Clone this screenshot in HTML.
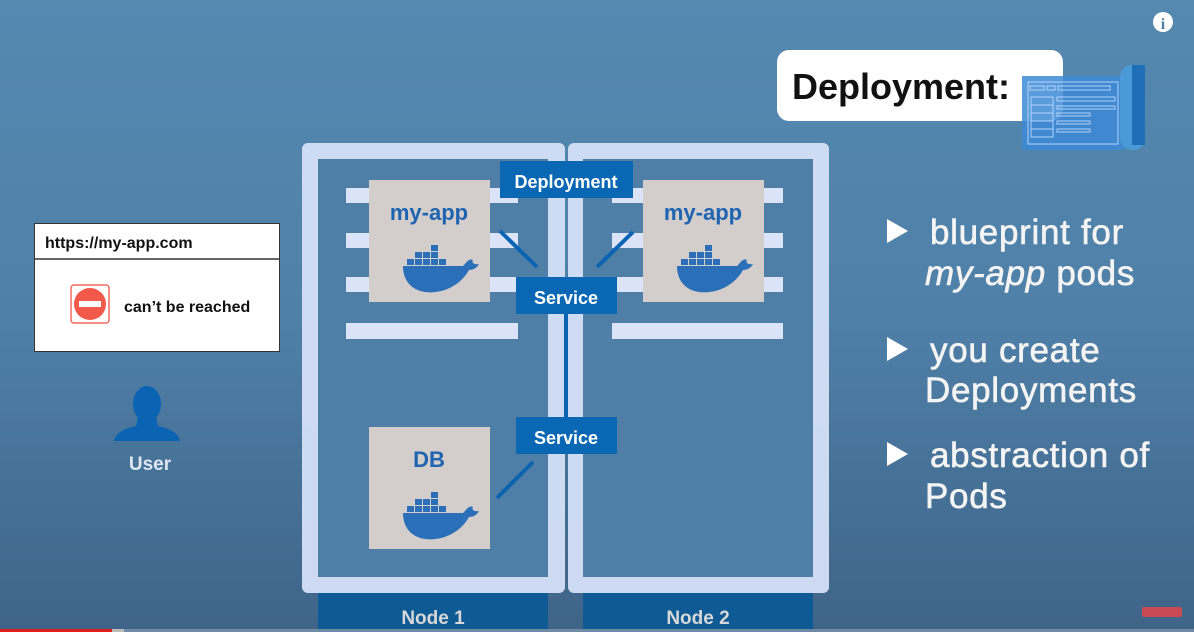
<!DOCTYPE html>
<html><head><meta charset="utf-8"><style>
html,body{margin:0;padding:0;}
body{width:1194px;height:632px;overflow:hidden;background:linear-gradient(180deg,#5589b0 0%,#4f80a8 50%,#3f6488 100%);font-family:"Liberation Sans",sans-serif;}
svg{display:block}
</style></head><body>
<svg width="1194" height="632" viewBox="0 0 1194 632" xmlns="http://www.w3.org/2000/svg">
<defs>
<g id="whale">
  <path d="M0 14 L60 14 C64 10 66 6 70 8 C68 11 72 13 76 12 C74 16 70 18 66 18 C56 36 36 42 22 40 C8 38 0 28 0 14 Z" fill="#2a6fb8"/>
  <g fill="#2a6fb8">
    <rect x="4" y="7" width="7" height="6"/><rect x="12" y="7" width="7" height="6"/><rect x="20" y="7" width="7" height="6"/><rect x="28" y="7" width="7" height="6"/><rect x="36" y="7" width="7" height="6"/>
    <rect x="12" y="0" width="7" height="6"/><rect x="20" y="0" width="7" height="6"/><rect x="28" y="0" width="7" height="6"/>
    <rect x="28" y="-7" width="7" height="6"/>
  </g>
</g>
</defs>

<circle cx="1163" cy="22" r="10" fill="#fff"/>
<text x="1163" y="29" font-size="16" font-weight="bold" text-anchor="middle" fill="#4f80a8" font-family="Liberation Serif,serif">i</text>

<rect x="777" y="50" width="286" height="71" rx="12" fill="#fff"/>
<text x="792" y="99" font-size="36" font-weight="bold" fill="#111">Deployment:</text>
<rect x="1022" y="76" width="102" height="74" fill="#3d8ad6" opacity="0.85"/>
<rect x="1120" y="65" width="25" height="85" rx="12" fill="#4a9ad8"/>
<rect x="1132" y="65" width="13" height="80" fill="#1f6fb8"/>
<g stroke="#bcdcff" stroke-width="1" fill="none" opacity="0.9">
  <rect x="1028" y="82" width="90" height="62"/>
  <rect x="1030" y="86" width="14" height="4"/><rect x="1047" y="86" width="8" height="4"/><rect x="1058" y="86" width="52" height="4"/>
  <rect x="1031" y="97" width="22" height="40"/>
  <line x1="1031" y1="105" x2="1053" y2="105"/><line x1="1031" y1="113" x2="1053" y2="113"/><line x1="1031" y1="121" x2="1053" y2="121"/><line x1="1031" y1="129" x2="1053" y2="129"/>
  <rect x="1057" y="97" width="58" height="4"/><rect x="1057" y="106" width="58" height="3"/><rect x="1057" y="113" width="33" height="3"/><rect x="1057" y="121" width="33" height="3"/><rect x="1057" y="129" width="33" height="3"/>
</g>

<rect x="34.5" y="223.5" width="245" height="128" fill="#fff" stroke="#333" stroke-width="1"/>
<line x1="34" y1="259" x2="280" y2="259" stroke="#333" stroke-width="1.5"/>
<text x="45" y="248" font-size="16" font-weight="bold" fill="#111">https://my-app.com</text>
<rect x="71" y="285" width="38" height="38" rx="3" fill="#fff" stroke="#ef6b5e" stroke-width="1.5"/>
<circle cx="90" cy="304" r="16" fill="#f15a4a"/>
<rect x="79" y="301" width="22" height="6" fill="#fff"/>
<text x="124" y="312" font-size="16" font-weight="bold" fill="#111">can’t be reached</text>

<ellipse cx="147" cy="404" rx="14" ry="18" fill="#0b64b3"/>
<path d="M138 416 Q147 428 156 416 L158 426 Q178 430 180 441 L114 441 Q116 430 136 426 Z" fill="#0b64b3"/>
<text x="150" y="470" font-size="19" font-weight="bold" fill="#dfe7f2" text-anchor="middle">User</text>

<rect x="302" y="143" width="263" height="450" rx="6" fill="#d5e0f7" opacity="0.95"/>
<rect x="318" y="159" width="230" height="418" fill="#4f7fa6"/>
<rect x="568" y="143" width="261" height="450" rx="6" fill="#d5e0f7" opacity="0.95"/>
<rect x="583" y="159" width="230" height="418" fill="#4f7fa6"/>
<rect x="564" y="300" width="4" height="130" fill="#0b64b3"/>

<rect x="318" y="593" width="230" height="39" fill="#0e5a95"/>
<rect x="583" y="593" width="230" height="39" fill="#0e5a95"/>
<text x="433" y="624" font-size="19" font-weight="bold" fill="#d8d8d8" text-anchor="middle">Node 1</text>
<text x="698" y="624" font-size="19" font-weight="bold" fill="#d8d8d8" text-anchor="middle">Node 2</text>

<g fill="#dae3f7">
<rect x="346" y="188" width="172" height="15"/><rect x="346" y="233" width="172" height="15"/><rect x="346" y="277" width="172" height="15"/><rect x="346" y="323" width="172" height="16"/>
<rect x="612" y="188" width="171" height="15"/><rect x="612" y="233" width="171" height="15"/><rect x="612" y="277" width="171" height="15"/><rect x="612" y="323" width="171" height="16"/>
</g>

<g stroke="#0b64b3" stroke-width="4">
<line x1="500" y1="231" x2="537" y2="267"/>
<line x1="633" y1="232" x2="597" y2="267"/>
<line x1="533" y1="462" x2="497" y2="498"/>
</g>

<rect x="369" y="180" width="121" height="122" fill="#d3cdcb"/>
<rect x="643" y="180" width="121" height="122" fill="#d3cdcb"/>
<rect x="369" y="427" width="121" height="122" fill="#d3cdcb"/>
<text x="429" y="220" font-size="22" font-weight="bold" fill="#1f64b0" text-anchor="middle">my-app</text>
<text x="703" y="220" font-size="22" font-weight="bold" fill="#1f64b0" text-anchor="middle">my-app</text>
<text x="429" y="467" font-size="22" font-weight="bold" fill="#1f64b0" text-anchor="middle">DB</text>
<use href="#whale" x="403" y="252"/>
<use href="#whale" x="677" y="252"/>
<use href="#whale" x="403" y="499"/>

<rect x="500" y="161" width="133" height="37" fill="#0a67b3"/>
<text x="566" y="188" font-size="18" font-weight="bold" fill="#fff" text-anchor="middle">Deployment</text>
<rect x="516" y="277" width="101" height="37" fill="#0a67b3"/>
<text x="566" y="304" font-size="18" font-weight="bold" fill="#fff" text-anchor="middle">Service</text>
<rect x="516" y="417" width="101" height="37" fill="#0a67b3"/>
<text x="566" y="444" font-size="18" font-weight="bold" fill="#fff" text-anchor="middle">Service</text>

<g fill="#fff">
<path d="M887 219 L908 231 L887 243 Z"/>
<path d="M887 337 L908 349 L887 361 Z"/>
<path d="M887 442 L908 454 L887 466 Z"/>
</g>
<g font-size="35" fill="#f4f4f4" stroke="#f4f4f4" stroke-width="0.6" letter-spacing="0.7">
<text x="930" y="244">blueprint for</text>
<text x="925" y="285"><tspan font-style="italic">my-app</tspan> pods</text>
<text x="930" y="362">you create</text>
<text x="925" y="402">Deployments</text>
<text x="930" y="467">abstraction of</text>
<text x="925" y="508">Pods</text>
</g>

<rect x="1142" y="607" width="40" height="10" rx="2" fill="#c94a55"/>
<rect x="0" y="629" width="1194" height="3" fill="#6e8aa5"/>
<rect x="0" y="629" width="112" height="3" fill="#e02020"/>
<rect x="112" y="629" width="12" height="3" fill="#bbb"/>
</svg>
</body></html>
